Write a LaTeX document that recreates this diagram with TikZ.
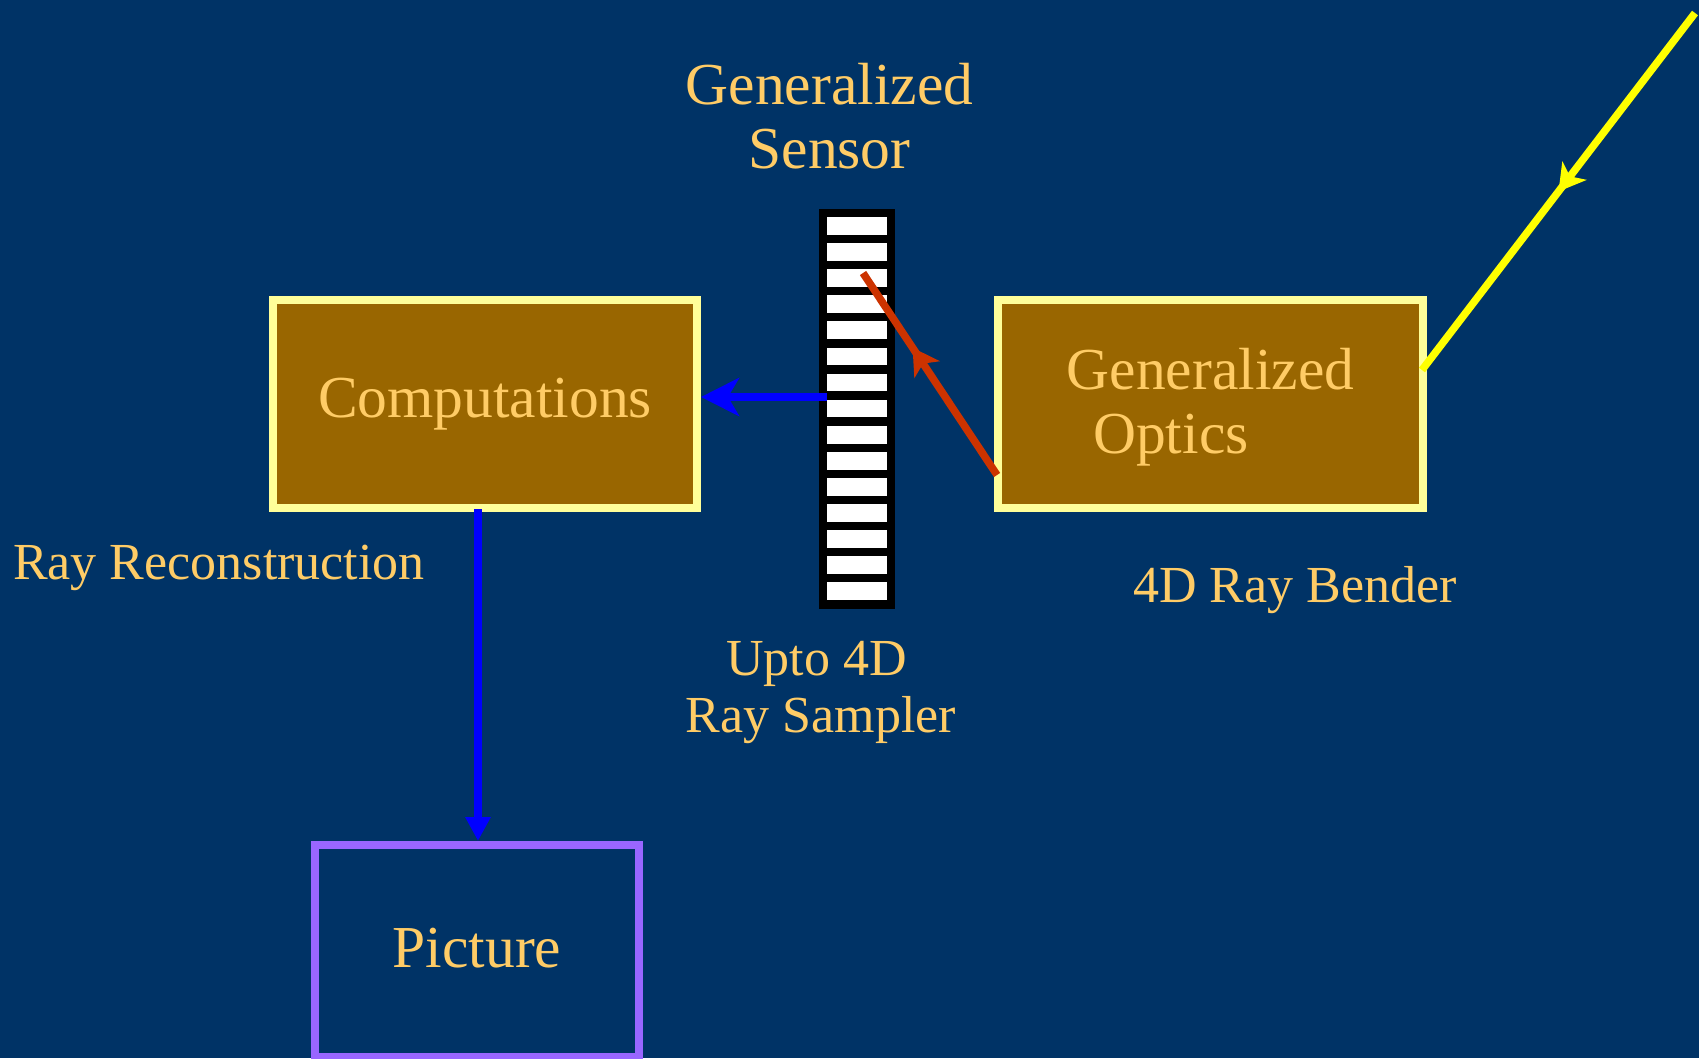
\documentclass[tikz,border=0pt]{standalone}
\usepackage{fontspec}
\setmainfont{Liberation Serif}
\usetikzlibrary{arrows.meta,decorations.markings}
\definecolor{bg}{HTML}{003366}
\definecolor{boxfill}{HTML}{996600}
\definecolor{boxline}{HTML}{FFFF99}
\definecolor{txt}{HTML}{FFCC66}
\definecolor{rayblue}{HTML}{0000FF}
\definecolor{rayred}{HTML}{CC3300}
\definecolor{rayyellow}{HTML}{FFFF00}
\definecolor{picline}{HTML}{9966FF}
\tikzset{
  bigtext/.style={text=txt, font=\fontsize{59.5}{64}\selectfont, inner sep=0pt},
  smalltext/.style={text=txt, font=\fontsize{52}{57}\selectfont, inner sep=0pt},
  goldbox/.style={draw=boxline, fill=boxfill, line width=8pt, rectangle, inner sep=0pt},
  picbox/.style={draw=picline, line width=8pt, rectangle, inner sep=0pt},
  sensorbar/.style={fill=black, rectangle, inner sep=0pt, minimum width=76pt, minimum height=400pt},
  blueray/.style={draw=rayblue, line width=8pt},
  redray/.style={draw=rayred, line width=7.5pt,
    decoration={markings, mark=at position 0.63 with {\arrow{Stealth[length=26pt,width=30pt,inset=7pt]}}},
    postaction={decorate}},
  yellowray/.style={draw=rayyellow, line width=7.5pt,
    decoration={markings, mark=at position 0.5 with {\arrow{Stealth[length=26pt,width=30pt,inset=7pt]}}},
    postaction={decorate}},
}
\begin{document}
\begin{tikzpicture}[x=1pt,y=-1pt]
\fill[bg] (0,0) rectangle (1699,1058);
\useasboundingbox (0,0) rectangle (1699,1058);

% boxes
\node[goldbox, bigtext, minimum width=424pt, minimum height=208pt, text height=26pt, text depth=0pt] (comp) at (485,404) {Computations};
\node[goldbox, minimum width=425pt, minimum height=208pt] (opt) at (1210.5,404) {};
\node[bigtext, anchor=base] (optA) at (1210.5,389) {Generalized};
\node[bigtext, anchor=base west] (optB) at (1093,453) {Optics};
\node[picbox, bigtext, minimum width=324pt, minimum height=212pt, text height=32pt, text depth=0pt] (pic) at (477,951) {Picture};

% sensor
\node[sensorbar] (sensor) at (857,409) {};
\foreach \i in {0,...,14}
  \fill[white] (827,{217+26.1*\i}) rectangle (887,{234.7+26.1*\i});

% labels
\node[bigtext, anchor=base] (gsA) at (829.5,104) {Generalized};
\node[bigtext, anchor=base] (gsB) at (829.5,168) {Sensor};
\node[smalltext, anchor=base] (upA) at (816.5,675) {Upto 4D};
\node[smalltext, anchor=base] (upB) at (821,732) {Ray Sampler};
\node[smalltext, anchor=base west] (rr) at (13,579) {Ray Reconstruction};
\node[smalltext, anchor=base west] (rb) at (1133,602) {4D Ray Bender};

% rays
\coordinate (sout) at (827,397);
\draw[blueray, -{Stealth[length=38pt,width=38pt,inset=11pt]}] (sout) -- (sout -| comp.east);
\coordinate (vstart) at (478,509);
\draw[blueray, -{Triangle[length=24pt,width=24pt]}] (vstart) -- (vstart |- pic.north);
\coordinate (redA) at (997,475);
\coordinate (redB) at (863,273);
\draw[redray] (redA) -- (redB);
\coordinate (yelA) at (1695,13);
\coordinate (yelB) at (1422,370);
\draw[yellowray] (yelA) -- (yelB);
\end{tikzpicture}
\end{document}
